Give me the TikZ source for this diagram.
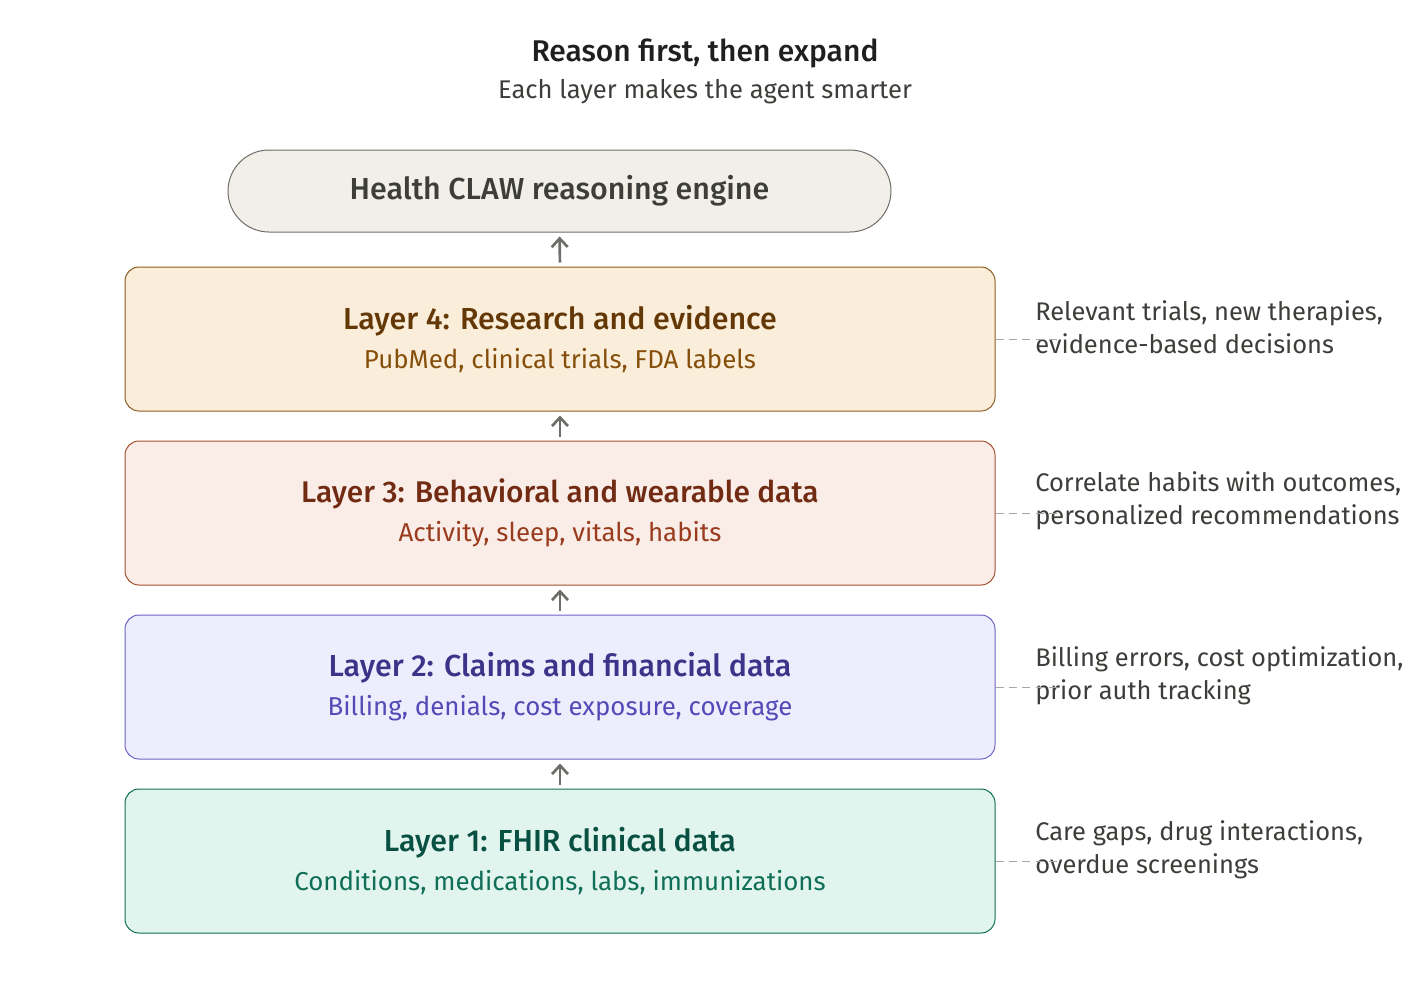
\documentclass[tikz,border=0pt]{standalone}
\usepackage{fontspec}
\setmainfont{Fira Sans}[BoldFont={Fira Sans Medium}]
\usetikzlibrary{arrows.meta,positioning}

\definecolor{inkmain}{HTML}{1F1F1D}
\definecolor{inksoft}{HTML}{3D3D3A}
\definecolor{enginefill}{HTML}{F1EFE8}
\definecolor{enginedraw}{HTML}{6E6D68}
\definecolor{researchfill}{HTML}{FAEEDA}
\definecolor{researchdraw}{HTML}{8C5A1C}
\definecolor{researchhead}{HTML}{633806}
\definecolor{researchsub}{HTML}{854F0B}
\definecolor{wearfill}{HTML}{FAECE7}
\definecolor{weardraw}{HTML}{A4502F}
\definecolor{wearhead}{HTML}{712B13}
\definecolor{wearsub}{HTML}{993C1D}
\definecolor{claimsfill}{HTML}{EEEDFE}
\definecolor{claimsdraw}{HTML}{6A62C4}
\definecolor{claimshead}{HTML}{3C3489}
\definecolor{claimssub}{HTML}{534AB7}
\definecolor{fhirfill}{HTML}{E1F5EE}
\definecolor{fhirdraw}{HTML}{0F6E56}
\definecolor{fhirhead}{HTML}{085041}
\definecolor{fhirsub}{HTML}{0F6E56}
\definecolor{flowgray}{HTML}{6E6D68}
\definecolor{dashgray}{HTML}{A8A7A2}

\begin{document}
\begin{tikzpicture}[x=0.75pt,y=-0.75pt]
            \tikzstyle{layer}=[rounded corners=10.5pt,line width=0.75pt,minimum width=652.5pt,minimum height=108pt,align=center,inner sep=0pt]
            \tikzstyle{flow}=[-{Straight Barb[length=6.5pt,width=12pt,line width=2pt]},line width=2pt,draw=flowgray,shorten <=3pt,shorten >=3pt]
            \tikzstyle{tie}=[draw=dashgray,line width=0.75pt,dash pattern=on 6pt off 4pt]
            \tikzstyle{note}=[anchor=west,align=left,inner sep=0pt,text=inksoft,font=\fontsize{19.1pt}{24.5pt}\selectfont]
            \useasboundingbox (0,0) rectangle (1410,996);
            \node[text=inkmain,font=\fontsize{22.5pt}{26pt}\selectfont\bfseries] (title) at (705,53) {Reason first, then expand};
            \node[text=inksoft,font=\fontsize{19.2pt}{22pt}\selectfont] (subtitle) at (705,92) {Each layer makes the agent smarter};
            \node[rounded corners=30.75pt,line width=0.75pt,draw=enginedraw,fill=enginefill,minimum width=497.25pt,minimum height=61.5pt,
                text=inksoft,font=\fontsize{22.8pt}{26pt}\selectfont\bfseries] (engine) at (559.5,191) {Health CLAW reasoning engine};
            \node[layer,draw=researchdraw,fill=researchfill] (research) at (560,339)
                {\textcolor{researchhead}{\fontsize{22.8pt}{26pt}\selectfont\bfseries Layer 4: Research and evidence}\\[8pt]
                 \textcolor{researchsub}{\fontsize{19.4pt}{22pt}\selectfont PubMed, clinical trials, FDA labels}};
            \node[layer,draw=weardraw,fill=wearfill] (wearable) at (560,513)
                {\textcolor{wearhead}{\fontsize{22.4pt}{26pt}\selectfont\bfseries Layer 3: Behavioral and wearable data}\\[8pt]
                 \textcolor{wearsub}{\fontsize{19.4pt}{22pt}\selectfont Activity, sleep, vitals, habits}};
            \node[layer,draw=claimsdraw,fill=claimsfill] (claims) at (560,687)
                {\textcolor{claimshead}{\fontsize{22.8pt}{26pt}\selectfont\bfseries Layer 2: Claims and financial data}\\[8pt]
                 \textcolor{claimssub}{\fontsize{19.4pt}{22pt}\selectfont Billing, denials, cost exposure, coverage}};
            \node[layer,draw=fhirdraw,fill=fhirfill] (fhir) at (560,861)
                {\textcolor{fhirhead}{\fontsize{22.8pt}{26pt}\selectfont\bfseries Layer 1: FHIR clinical data}\\[8pt]
                 \textcolor{fhirsub}{\fontsize{19.4pt}{22pt}\selectfont Conditions, medications, labs, immunizations}};
            % flow upwards
            \draw[flow] (fhir.north) -- (claims.south);
            \draw[flow] (claims.north) -- (wearable.south);
            \draw[flow] (wearable.north) -- (research.south);
            \draw[flow] (research.north) -- (engine.south);
            % side notes
            \node[note] (researchnote) at (1035,327) {Relevant trials, new therapies,\\evidence-based decisions};
            \node[note] (wearnote) at (1035,501) {Correlate habits with outcomes,\\personalized recommendations};
            \node[note] (claimsnote) at (1035,676) {Billing errors, cost optimization,\\prior auth tracking};
            \node[note] (fhirnote) at (1035,850) {Care gaps, drug interactions,\\overdue screenings};
            \coordinate (researchend) at (1062,339);
            \coordinate (wearend) at (1062,513);
            \coordinate (claimsend) at (1062,687);
            \coordinate (fhirend) at (1062,861);
            \draw[tie] (research.east) -- (researchend);
            \draw[tie] (wearable.east) -- (wearend);
            \draw[tie] (claims.east) -- (claimsend);
            \draw[tie] (fhir.east) -- (fhirend);
\end{tikzpicture}
\end{document}
